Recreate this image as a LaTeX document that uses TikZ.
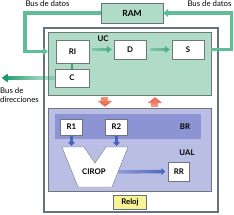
\documentclass[tikz,border=0pt]{standalone}
\usepackage{fontspec}
\setmainfont{Lato}
\usetikzlibrary{arrows.meta, positioning, fadings}
\definecolor{ucgreen}{RGB}{176,219,199}
\definecolor{busgreen}{RGB}{96,190,150}
\definecolor{darkgreen}{RGB}{20,150,100}
\definecolor{cpugray}{RGB}{100,115,125}
\definecolor{boxgray}{RGB}{110,120,120}
\definecolor{alublue}{RGB}{186,190,228}
\definecolor{brblue}{RGB}{140,148,212}
\definecolor{arrblue}{RGB}{70,100,190}
\definecolor{arrred}{RGB}{236,96,66}
\definecolor{relojyellow}{RGB}{248,244,150}
\tikzfading[name=toeast, left color=transparent!75, right color=transparent!0]
\tikzfading[name=towest, left color=transparent!0, right color=transparent!80]
\tikzfading[name=tosouth, top color=transparent!45, bottom color=transparent!0]
\tikzfading[name=tonorth, top color=transparent!0, bottom color=transparent!45]

\begin{document}
\begin{tikzpicture}[x=1pt, y=-1pt,
        font=\fontsize{7.8}{9}\selectfont,
        box/.style={rectangle, draw=boxgray, fill=white, inner sep=0pt,
                    font=\fontsize{7.8}{9}\selectfont\bfseries},
        area/.style={rectangle, inner sep=0pt},
        lbl/.style={font=\fontsize{7.8}{9}\selectfont\bfseries},
        bus/.style={draw=busgreen, line width=3.5pt, -{Triangle[width=8pt,length=5pt]}},
        flow/.style={draw=darkgreen!80, line width=3.5pt, -{Triangle[width=7pt,length=5pt]},
                     path fading=toeast},
        redarr/.style={draw=arrred, line width=7pt, -{Triangle[width=15pt,length=6pt]}},
        bluearr/.style={draw=arrblue, line width=2.5pt, -{Triangle[width=7pt,length=4pt]}}
      ]
        \useasboundingbox (0,0) rectangle (234,215);

        % CPU
        \node[area, draw=cpugray, line width=2pt, fill=white,
              minimum width=174pt, minimum height=184pt] (cpu) at (131,120) {};
        \node[area, draw=boxgray, fill=ucgreen,
              minimum width=163pt, minimum height=63pt] (uc) at (129.5,63.5) {};
        \node[area, draw=boxgray, fill=alublue,
              minimum width=163pt, minimum height=83pt] (alu) at (129.5,149.5) {};
        \node[area, fill=brblue, minimum width=146pt, minimum height=25pt] (br) at (128,126.5) {};

        \node[box, fill=ucgreen, draw=cpugray, minimum width=62pt, minimum height=20pt,
              font=\fontsize{8.5}{10}\selectfont\bfseries] (ram) at (132,13) {RAM};

        % unidad de control
        \node[box, minimum width=33pt, minimum height=23pt] (ri) at (72.5,51.5) {RI};
        \node[box, minimum width=32pt, minimum height=19pt] (d) at (130,49.5) {D};
        \node[box, minimum width=32pt, minimum height=19pt] (s) at (188,49.5) {S};
        \node[box, minimum width=34pt, minimum height=18pt] (c) at (72,78) {C};
        \node[lbl] (uclbl) at (103,39) {UC};

        % unidad aritmetico-logica
        \node[box, minimum width=22pt, minimum height=16pt] (r1) at (71.5,127) {R1};
        \node[box, minimum width=22pt, minimum height=16pt] (r2) at (116.5,127) {R2};
        \node[lbl] (brlbl) at (185,127) {BR};
        \node[lbl] (ualbl) at (187,153) {UAL};
        \fill[white, draw=boxgray] (62,147) -- (84,147) -- (95,163) -- (106,147)
              -- (128,147) -- (112,187) -- (78,187) -- cycle;
        \node[lbl] (cirop) at (94,172) {CIROP};
        \node[box, minimum width=21pt, minimum height=19pt] (rr) at (179,171.5) {RR};

        \node[box, fill=relojyellow, draw=cpugray, minimum width=33pt, minimum height=14pt] (reloj)
              at (130,202) {Reloj};

        % buses
        \draw[bus] (ram.west) -- ++(-76,0) |- (uc.west |- ri.center);
        \draw[bus] (uc.east |- s.center) -- ++(20.5,0) |- (ram.east);
        \node[anchor=south] (bdl) at (47.5,10) {Bus de datos};
        \node[anchor=south] (bdr) at (209.5,10) {Bus de datos};

        \draw[flow, shorten <=3pt, shorten >=2pt] (ri.east |- d.center) -- (d.west);
        \draw[flow, shorten <=4pt, shorten >=2pt] (d.east) -- (s.west);
        \draw[draw=busgreen!80!black, line width=2pt] (ri.south -| c.north) -- (c.north);
        \draw[draw=darkgreen, line width=3.5pt, -{Triangle[width=9pt,length=6pt]},
              path fading=towest] (c.west) -- ++(-53,0) coordinate (bdir);
        \node[anchor=north west, align=left, inner sep=0pt] (bdirlbl) at (0,87.5)
              {Bus de\\direcciones};

        % entre UC y UAL
        \draw[redarr, path fading=tosouth, shorten <=2pt, shorten >=1pt]
              ([xshift=-24.5pt]uc.south) -- ([xshift=-24.5pt]alu.north);
        \draw[redarr, path fading=tonorth, shorten <=1pt, shorten >=2pt]
              ([xshift=25.5pt]alu.north) -- ([xshift=25.5pt]uc.south);

        \draw[bluearr, shorten <=1pt, shorten >=1pt] (r1.south) -- (r1.south |- 0,147);
        \draw[bluearr, shorten <=1pt, shorten >=1pt] (r2.south) -- (r2.south |- 0,147);
        \draw[bluearr, line width=3.5pt, path fading=toeast, shorten <=9pt, shorten >=3pt]
              (cirop.east) -- (rr.west);
      \end{tikzpicture}
\end{document}
